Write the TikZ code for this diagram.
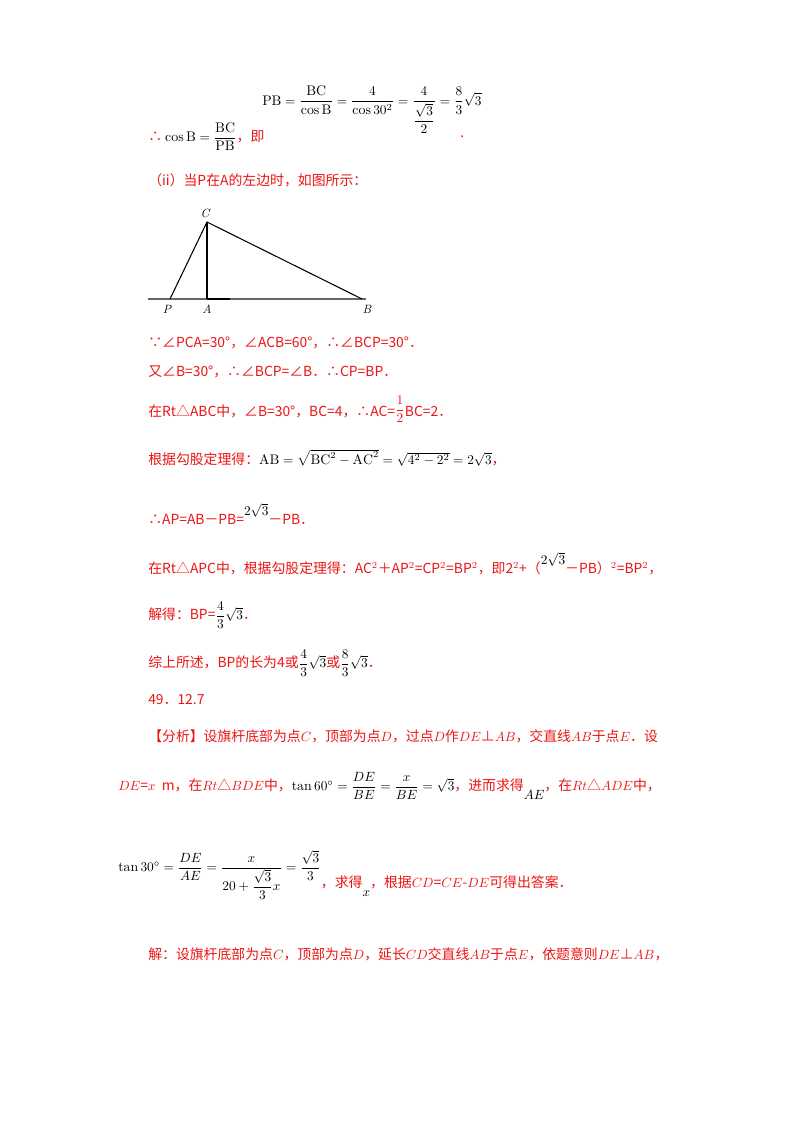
\documentclass[tikz,border=0pt]{standalone}
\usepackage{fontspec}
\usepackage{amsmath}
\newfontfamily\cjk{Noto Sans CJK SC}
\definecolor{rd}{RGB}{235,20,20}
\newcommand{\mk}[1]{{\color{black}$#1$}}
\begin{document}
\begin{tikzpicture}[x=0.75pt,y=-0.75pt,
  t/.style={anchor=west,inner sep=0,text=rd,font=\fontsize{10.4}{12}\selectfont\cjk},
  lab/.style={inner sep=0,font=\small\itshape}]
\useasboundingbox (0,0) rectangle (800,1132);
\node[t] (l1) at (262,110) {\mk{\mathrm{PB}=\dfrac{\mathrm{BC}}{\cos\mathrm{B}}=\dfrac{4}{\cos30^2}=\dfrac{4}{\dfrac{\sqrt3}{2}}=\dfrac{8}{3}\sqrt3}};
\node[t] (l0) at (148,137) {∴ \mk{\cos\mathrm{B}=\dfrac{\mathrm{BC}}{\mathrm{PB}}}，即};
\node[t] (dot) at (460,137) {.};
\node[t] (l2) at (148,180) {（ii）当P在A的左边时，如图所示：};
% figure
\coordinate (C) at (207,222);
\coordinate (P) at (170,299);
\coordinate (A) at (207,299);
\coordinate (B) at (362,299);
\coordinate (L) at (148,299);
\coordinate (R) at (366,299);
\coordinate (A2) at (230,299);
\draw[gray!80!black,line width=1pt] (L) -- (R);
\draw[line width=1.6pt] (A) -- (A2);
\draw[line width=0.8pt] (P) -- (C) -- (B);
\draw[line width=0.8pt] (C) -- (A);
\node[lab] (lc) at (205,213) {C};
\node[lab] (lp) at (167,309) {P};
\node[lab] (la) at (207,309) {A};
\node[lab] (lb) at (367,309) {B};
\node[t] (l3) at (148,343) {∵∠PCA=30°，∠ACB=60°，∴∠BCP=30°．};
\node[t] (l4) at (148,372) {又∠B=30°，∴∠BCP=∠B．∴CP=BP．};
\node[t] (l5) at (148,409) {在Rt△ABC中，∠B=30°，BC=4，∴AC=\raisebox{0.4ex}{$\dfrac12$}BC=2．};
\node[t] (l6) at (148,458) {根据勾股定理得：\mk{\mathrm{AB}=\sqrt{\mathrm{BC}^2-\mathrm{AC}^2}=\sqrt{4^2-2^2}=2\sqrt3}，};
\node[t] (l7) at (148,514) {∴AP=AB－PB=\raisebox{1.2ex}{\mk{2\sqrt3}}－PB．};
\node[t] (l8) at (148,564) {在Rt△APC中，根据勾股定理得：AC$^2$＋AP$^2$=CP$^2$=BP$^2$，即2$^2$+（\raisebox{1.2ex}{\mk{2\sqrt3}}－PB）$^2$=BP$^2$，};
\node[t] (l9) at (148,615) {解得：BP=\mk{\dfrac43\sqrt3}．};
\node[t] (l10) at (148,663) {综上所述，BP的长为4或\mk{\dfrac43\sqrt3}或\mk{\dfrac83\sqrt3}．};
\node[t] (l11) at (148,700) {49．12.7};
\node[t] (l12) at (148,736) {【分析】设旗杆底部为点$C$，顶部为点$D$，过点$D$作$DE$⊥$AB$，交直线$AB$于点$E$．设};
\node[t] (l13) at (118,786) {$DE$=$x$\ \ m，在$Rt$△$BDE$中，\mk{\tan60^\circ=\dfrac{DE}{BE}=\dfrac{x}{BE}=\sqrt3}，进而求得\raisebox{-1.2ex}{\mk{AE}}，在$Rt$△$ADE$中，};
\node[t] (l14) at (118,875) {\mk{\tan30^\circ=\dfrac{DE}{AE}=\dfrac{x}{20+\dfrac{\sqrt3}{3}x}=\dfrac{\sqrt3}{3}}\raisebox{-2.2ex}{，求得\raisebox{-1.2ex}{\mk{x}}，根据$CD$=$CE$-$DE$可得出答案．}};
\node[t] (l15) at (148,954) {解：设旗杆底部为点$C$，顶部为点$D$，延长$CD$交直线$AB$于点$E$，依题意则$DE$⊥$AB$，};
\end{tikzpicture}
\end{document}
